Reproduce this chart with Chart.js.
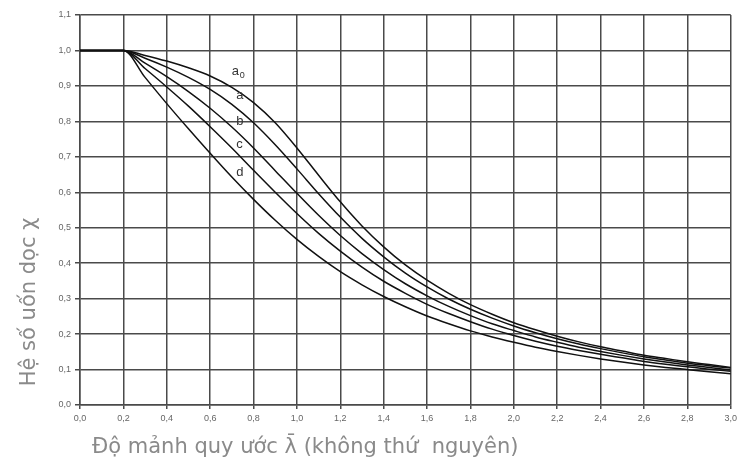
<!DOCTYPE html>
<html>
<head>
<meta charset="utf-8">
<script src="https://cdn.jsdelivr.net/npm/chart.js@4/dist/chart.umd.min.js"></script>
<style>
  html, body { margin: 0; padding: 0; background: #fff; }
  #wrap { width: 741px; height: 470px; position: relative; }
</style>
</head>
<body>
<div id="wrap"><canvas id="myChart" width="741" height="470"></canvas></div>
<script>
// slenderness values (lambda bar)
var lambdas = [0.0, 0.2, 0.3, 0.4, 0.5, 0.6, 0.7, 0.8, 0.9, 1.0, 1.1, 1.2, 1.3, 1.4, 1.5,
	1.6, 1.7, 1.8, 1.9, 2.0, 2.1, 2.2, 2.3, 2.4, 2.5, 2.6, 2.7, 2.8, 2.9, 3.0];

// buckling curves
var curveA0 = [1.0, 1.0, 0.986, 0.970, 0.951, 0.928, 0.896, 0.853, 0.796, 0.725, 0.648, 0.573, 0.505, 0.446, 0.395,
	0.352, 0.315, 0.283, 0.256, 0.232, 0.212, 0.194, 0.178, 0.164, 0.152, 0.140, 0.131, 0.122, 0.114, 0.106];
var curveA = [1.0, 1.0, 0.978, 0.953, 0.924, 0.890, 0.848, 0.796, 0.734, 0.666, 0.596, 0.530, 0.470, 0.418, 0.372,
	0.333, 0.299, 0.270, 0.245, 0.223, 0.204, 0.187, 0.172, 0.159, 0.147, 0.136, 0.127, 0.118, 0.111, 0.104];
var curveB = [1.0, 1.0, 0.964, 0.926, 0.884, 0.837, 0.784, 0.725, 0.661, 0.597, 0.535, 0.478, 0.427, 0.382, 0.342,
	0.308, 0.278, 0.252, 0.229, 0.210, 0.192, 0.177, 0.163, 0.151, 0.140, 0.130, 0.121, 0.113, 0.106, 0.099];
var curveC = [1.0, 1.0, 0.949, 0.897, 0.843, 0.785, 0.725, 0.662, 0.600, 0.540, 0.484, 0.434, 0.389, 0.349, 0.315,
	0.284, 0.258, 0.235, 0.214, 0.196, 0.180, 0.166, 0.154, 0.143, 0.133, 0.123, 0.115, 0.108, 0.101, 0.095];
var curveD = [1.0, 1.0, 0.924, 0.850, 0.779, 0.710, 0.643, 0.580, 0.521, 0.467, 0.419, 0.376, 0.339, 0.306, 0.277,
	0.251, 0.229, 0.209, 0.192, 0.177, 0.163, 0.151, 0.140, 0.130, 0.121, 0.113, 0.106, 0.100, 0.094, 0.088];

var curveNames = ['a0', 'a', 'b', 'c', 'd'];
// where each curve name sits (data units)
var labelX = [0.70, 0.72, 0.72, 0.72, 0.72];
var labelY = [0.94, 0.873, 0.80, 0.735, 0.655];

var xTicks = ['0,0', '0,2', '0,4', '0,6', '0,8', '1,0', '1,2', '1,4', '1,6', '1,8', '2,0', '2,2', '2,4', '2,6', '2,8', '3,0'];
var yTicks = ['0,0', '0,1', '0,2', '0,3', '0,4', '0,5', '0,6', '0,7', '0,8', '0,9', '1,0', '1,1'];

var yTitle = 'Hệ số uốn dọc χ';
var xTitle = 'Độ mảnh quy ước λ̄ (không thứ  nguyên)';

function toPoints(ys) {
	return lambdas.map(function (x, i) { return { x: x, y: ys[i] }; });
}

var gridColor = '#4a4a4a';
var tickColor = '#666';

var extras = {
	id: 'extras',
	afterDraw: function (chart) {
		var ctx = chart.ctx;
		var xs = chart.scales.x, ys = chart.scales.y;
		ctx.save();
		// curve names
		ctx.fillStyle = '#333';
		ctx.textBaseline = 'middle';
		ctx.textAlign = 'left';
		curveNames.forEach(function (n, i) {
			var px = xs.getPixelForValue(labelX[i]);
			var py = ys.getPixelForValue(labelY[i]);
			ctx.font = '13px "Liberation Sans", Arial, sans-serif';
			if (n === 'a0') {
				ctx.fillText('a', px, py);
				ctx.font = '9px "Liberation Sans", Arial, sans-serif';
				ctx.fillText('0', px + 8, py + 4);
			} else {
				ctx.fillText(n, px, py);
			}
		});
		// axis titles
		ctx.fillStyle = '#8a8a8a';
		ctx.font = '21px "DejaVu Sans", sans-serif';
		ctx.textAlign = 'left';
		ctx.textBaseline = 'alphabetic';
		ctx.fillText(xTitle, 92, 453);
		ctx.translate(35, 302);
		ctx.rotate(-Math.PI / 2);
		ctx.textAlign = 'center';
		ctx.fillText(yTitle, 0, 0);
		ctx.restore();
	}
};

var ctx = document.getElementById('myChart').getContext('2d');
var chart = new Chart(ctx, {
	type: 'line',
	data: {
		datasets: [curveA0, curveA, curveB, curveC, curveD].map(function (c, i) {
			return {
				label: curveNames[i],
				data: toPoints(c),
				borderColor: '#111',
				borderWidth: 1.5,
				pointRadius: 0,
				fill: false,
				cubicInterpolationMode: 'monotone'
			};
		})
	},
	options: {
		responsive: false,
		animation: false,
		layout: { padding: { top: 15, right: 7, left: 0, bottom: 0 } },
		plugins: { legend: { display: false }, tooltip: { enabled: false } },
		scales: {
			x: {
				type: 'linear',
				min: 0,
				max: 3,
				afterFit: function (s) { s.height = 65; },
				afterBuildTicks: function (s) {
					s.ticks = xTicks.map(function (t, i) { return { value: i * 0.2 }; });
				},
				grid: { color: gridColor, lineWidth: 1.5, tickLength: 4 },
				border: { color: gridColor, width: 1.5 },
				ticks: {
					color: tickColor,
					font: { size: 9, family: 'Liberation Sans' },
					maxRotation: 0,
					autoSkip: false,
					padding: 4,
					callback: function (v, i) { return xTicks[i]; }
				}
			},
			y: {
				min: 0,
				max: 1.1,
				afterFit: function (s) { s.width = 80; },
				afterBuildTicks: function (s) {
					s.ticks = yTicks.map(function (t, i) { return { value: i * 0.1 }; });
				},
				grid: { color: gridColor, lineWidth: 1.5, tickLength: 5 },
				border: { color: gridColor, width: 1.5 },
				ticks: {
					color: tickColor,
					font: { size: 9, family: 'Liberation Sans' },
					autoSkip: false,
					padding: 4,
					callback: function (v, i) { return yTicks[i]; }
				}
			}
		}
	},
	plugins: [extras]
});
</script>
</body>
</html>
